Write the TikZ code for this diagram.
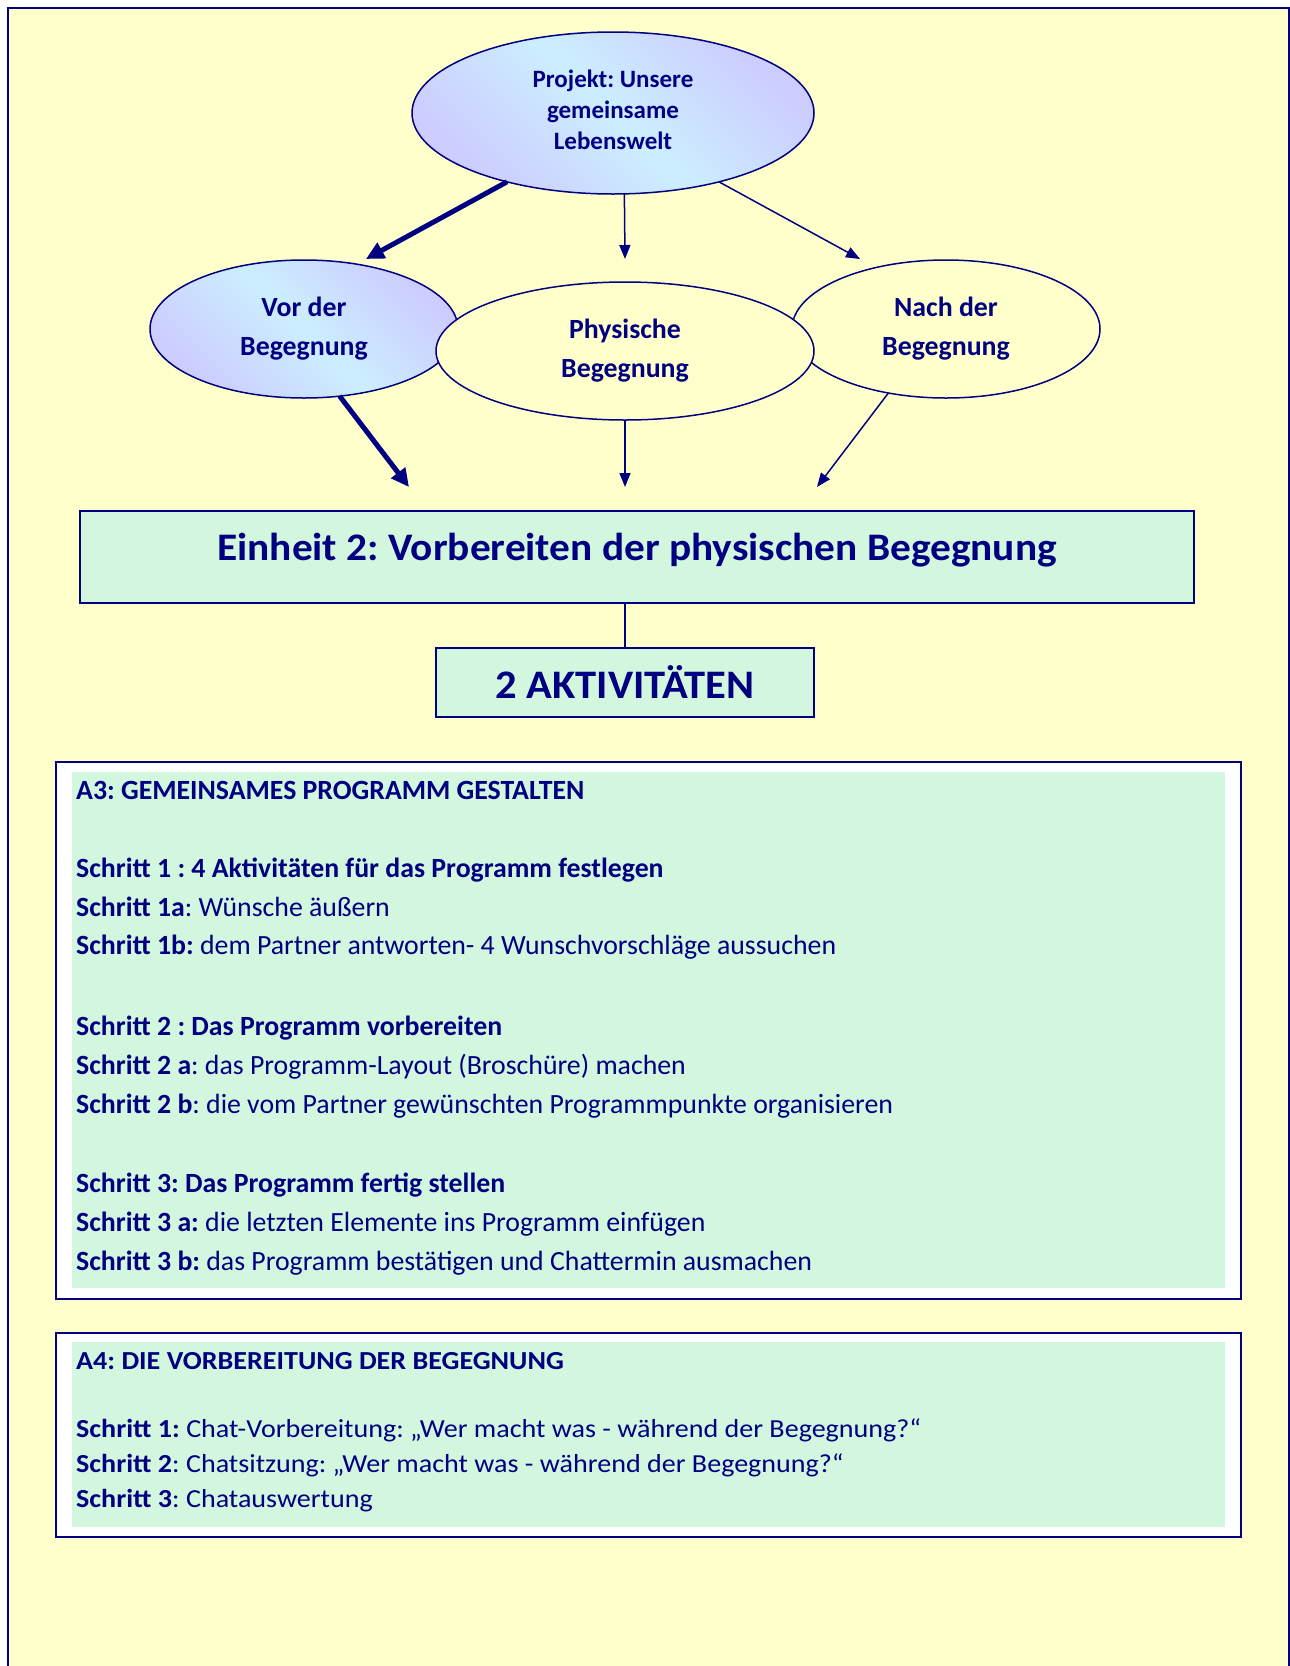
\documentclass[tikz,border=0pt]{standalone}
\usepackage{fontspec}
\setmainfont{Carlito}
\newfontfamily\wideA{Carlito}[FakeStretch=1.06]
\newfontfamily\wideB{Carlito}[FakeStretch=1.08]
\newfontfamily\wideC{Carlito}[FakeStretch=1.05]
\usetikzlibrary{arrows.meta,shapes.geometric}
\definecolor{navy}{RGB}{0,0,128}
\definecolor{bgyellow}{RGB}{255,255,204}
\definecolor{mint}{RGB}{210,247,222}
\definecolor{lav}{RGB}{204,204,255}
\definecolor{cyanl}{RGB}{204,238,255}
\frenchspacing
\begin{document}
\frenchspacing
\begin{tikzpicture}[x=1pt,y=-1pt,
  ell/.style={ellipse, draw=navy, line width=1.5pt, inner sep=0pt, outer sep=0pt,
    text=navy, align=center, font=\bfseries\fontsize{27.8}{39}\selectfont},
  grad/.style={left color=lav, right color=lav, middle color=cyanl, shading angle=-45},
  plain/.style={fill=bgyellow},
  arr/.style={draw=navy, line width=1.5pt, -{Triangle[length=14pt,width=11pt]}},
  arrthick/.style={draw=navy, line width=5pt, -{Triangle[length=18pt,width=17pt]}},
  box/.style={draw=navy, line width=2pt, fill=mint, inner sep=0pt, outer sep=0pt, anchor=north west},
  panel/.style={draw=navy, line width=2pt, fill=white, inner sep=0pt, outer sep=0pt, anchor=north west},
  panelin/.style={fill=mint, inner sep=0pt, outer sep=0pt, anchor=north west},
  lineA/.style={anchor=base west, inner sep=0pt, text=navy, font=\fontsize{27.8}{32}\selectfont},
  lineB/.style={anchor=base west, inner sep=0pt, text=navy, font=\wideB\fontsize{26}{30}\selectfont},
]
\useasboundingbox (0,0) rectangle (1290,1666);
\clip (0,0) rectangle (1290,1666);
\fill[white] (0,0) rectangle (1290,1666);
\draw[fill=bgyellow, draw=navy, line width=2pt] (8,8) rectangle (1289,1720);

% ellipses
\node[ell, grad, minimum width=402pt, minimum height=162pt, text depth=6pt,
  font=\bfseries\fontsize{25}{31}\selectfont] (proj) at (613,113)
  {Projekt: Unsere\\gemeinsame\\Lebenswelt};
\node[ell, grad, minimum width=308pt, minimum height=138pt] (vor) at (304,329)
  {Vor der\\Begegnung};
\node[ell, plain, minimum width=308pt, minimum height=138pt] (nach) at (946,329)
  {Nach der\\Begegnung};
\node[ell, plain, minimum width=378pt, minimum height=138pt] (phys) at (625,351)
  {Physische\\Begegnung};

% arrow ends
\coordinate (e1) at (366,259);
\coordinate (e2) at (625,259);
\coordinate (e3) at (860,259);
\coordinate (f1) at (409,487);
\coordinate (f2) at (625,487);
\coordinate (f3) at (817,487);

\draw[arrthick] (proj.213.7) -- (e1);
\draw[arr] (proj.278.4) -- (e2);
\draw[arr] (proj.327.2) -- (e3);
\draw[arrthick] (vor.298.6) -- (f1);
\draw[arr] (phys.south) -- (f2);
\draw[arr] (nach.228.6) -- (f3);

% Einheit box
\node[box, minimum width=1114pt, minimum height=92pt] (einheit) at (80,511) {};
\node[anchor=base, inner sep=0pt, text=navy, font=\wideA\bfseries\fontsize{39}{44}\selectfont]
  (einheitlabel) at (637,560) {Einheit 2: Vorbereiten der physischen Begegnung};
\node[box, minimum width=378pt, minimum height=69pt, text=navy,
  font=\wideC\bfseries\fontsize{40.5}{46}\selectfont] (akt) at (436,648) {2 AKTIVITÄTEN};
\draw[navy, line width=1.2pt] (einheit.south -| akt.north) -- (akt.north);

% A3 panel
\node[panel, minimum width=1185pt, minimum height=537pt] (a3) at (56,762) {};
\node[panelin, minimum width=1153pt, minimum height=516pt] (a3in) at (72,772) {};
\node[lineA] (a3h) at (76,799) {\textbf{A3: GEMEINSAMES PROGRAMM GESTALTEN}};
\node[lineA] (a3s1) at (76,877) {\textbf{Schritt 1 : 4 Aktivitäten für das Programm festlegen}};
\node[lineA] (a3s1a) at (76,916) {\textbf{Schritt 1a}: Wünsche äußern};
\node[lineA] (a3s1b) at (76,954) {\textbf{Schritt 1b:} dem Partner antworten- 4 Wunschvorschläge aussuchen};
\node[lineA] (a3s2) at (76,1035) {\textbf{Schritt 2 : Das Programm vorbereiten}};
\node[lineA] (a3s2a) at (76,1074) {\textbf{Schritt 2 a}: das Programm-Layout (Broschüre) machen};
\node[lineA] (a3s2b) at (76,1113) {\textbf{Schritt 2 b}: die vom Partner gewünschten Programmpunkte organisieren};
\node[lineA] (a3s3) at (76,1192) {\textbf{Schritt 3: Das Programm fertig stellen}};
\node[lineA] (a3s3a) at (76,1231) {\textbf{Schritt 3 a:} die letzten Elemente ins Programm einfügen};
\node[lineA] (a3s3b) at (76,1270) {\textbf{Schritt 3 b:} das Programm bestätigen und Chattermin ausmachen};

% A4 panel
\node[panel, minimum width=1185pt, minimum height=204pt] (a4) at (56,1333) {};
\node[panelin, minimum width=1153pt, minimum height=185pt] (a4in) at (72,1342) {};
\node[lineB] (a4h) at (76,1369) {\textbf{A4: DIE VORBEREITUNG DER BEGEGNUNG}};
\node[lineB] (a4s1) at (76,1437) {\textbf{Schritt 1:} Chat-Vorbereitung: „Wer macht was - während der Begegnung?“};
\node[lineB] (a4s2) at (76,1472) {\textbf{Schritt 2}: Chatsitzung: „Wer macht was - während der Begegnung?“};
\node[lineB] (a4s3) at (76,1507) {\textbf{Schritt 3}: Chatauswertung};
\end{tikzpicture}
\end{document}
